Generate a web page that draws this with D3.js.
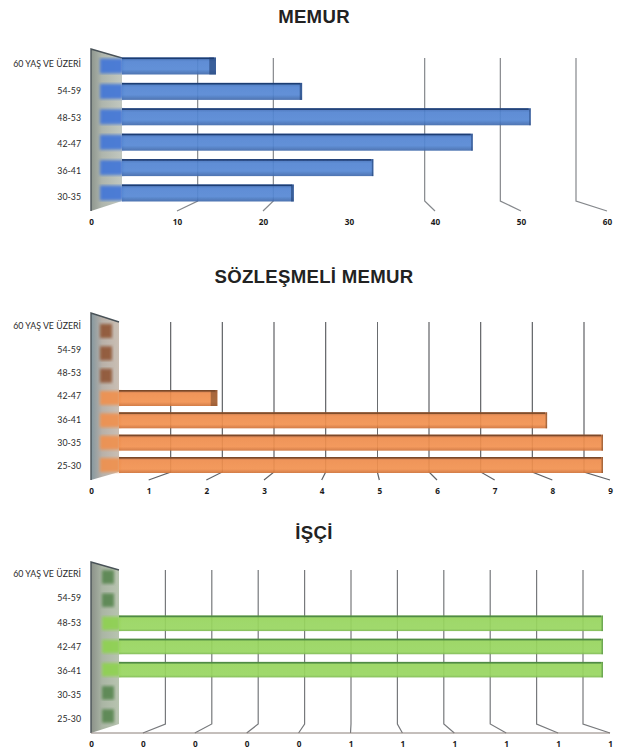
<!DOCTYPE html>
<html>
<head>
<meta charset="utf-8">
<script src="https://cdn.jsdelivr.net/npm/d3@7"></script>
<style>
html, body { margin:0; padding:0; background:#fff; }
svg { display:block; }
</style>
</head>
<body>
<svg id="drawing_region"></svg>
<script>
const memur_categories = ['60 YAŞ VE ÜZERİ','54-59','48-53','42-47','36-41','30-35'];
const memur_values = [14, 24.4, 52, 45, 33, 23.4];
const memur_ticks = [0,10,20,30,40,50,60];

const sozlesmeli_categories = ['60 YAŞ VE ÜZERİ','54-59','48-53','42-47','36-41','30-35','25-30'];
const sozlesmeli_values = [0, 0, 0, 2.1, 8, 9, 9];
const sozlesmeli_ticks = [0,1,2,3,4,5,6,7,8,9];

const isci_categories = ['60 YAŞ VE ÜZERİ','54-59','48-53','42-47','36-41','30-35','25-30'];
const isci_values = [0, 0, 1, 1, 1, 0, 0];
const isci_ticks = [0,0.1,0.2,0.3,0.4,0.5,0.6,0.7,0.8,0.9,1];

class Bar3D {

    constructor( config ) {
        this.config = config;
        this.init();
    }

    init() {
        let self = this;
        let c = self.config;
        let last = c.ticks[c.ticks.length - 1];

        self.svg = d3.select('#drawing_region');
        self.chart = self.svg.append('g');

        self.front = d3.scaleLinear().domain([0, last]).range(c.front);
        self.back = d3.scaleLinear().domain([0, last]).range(c.back);
        self.xscale = d3.scaleLinear().domain([0, last]).range(c.bar);
        self.yscale = d3.scalePoint().domain(c.categories).range(c.ybar);
        self.ylabel = d3.scalePoint().domain(c.categories).range(c.ylab);

        self.xaxis = d3.axisBottom( self.front )
            .tickValues(c.ticks)
            .tickFormat(d3.format('.0f'))
            .tickSize(0);
        self.yaxis = d3.axisLeft( self.ylabel ).tickSize(0);
    }

    render() {
        let self = this;
        let c = self.config;
        let wallRight = c.back[0];

        // duvar
        let wall = [[c.front[0], c.wallTop], [wallRight, c.gridTop], [wallRight, c.gridBottom], [c.front[0], c.floor]];
        self.chart.append('polygon')
            .attr('points', wall.join(' '))
            .attr('fill', `url(#${c.wallFill})`);
        self.chart.append('path')
            .attr('d', `M${wall[1]}L${wall[0]}L${wall[3]}`)
            .attr('fill', 'none')
            .attr('stroke', '#4a5258')
            .attr('stroke-width', 1.4)
            .attr('filter', 'url(#soft)');

        // grid
        self.chart.selectAll('.grid')
            .data(c.ticks.slice(1))
            .enter()
            .append('path')
            .attr('class', 'grid')
            .attr('d', d => `M${self.back(d)},${c.gridTop}V${c.gridBottom}L${self.front(d)},${c.floor}`)
            .attr('fill', 'none')
            .attr('stroke', c.gridColor)
            .attr('stroke-width', 1.2)
            .attr('filter', 'url(#soft)');

        if (c.floorLine) {
            self.chart.append('line')
                .attr('x1', c.front[0]).attr('x2', c.front[1])
                .attr('y1', c.floor).attr('y2', c.floor)
                .attr('stroke', '#8a7f78')
                .attr('stroke-width', 1);
        }

        // bars
        let rows = c.categories.map( (k, i) => ({label:k, value:c.values[i]}) );
        let bars = self.chart.selectAll('.bar')
            .data(rows)
            .enter()
            .append('g')
            .attr('class', 'bar')
            .attr('transform', d => `translate(0,${self.yscale(d.label) - c.barH/2})`);

        // duvar uzerindeki kisim bulanik, 0 degerleri burada kalir
        bars.append('rect')
            .attr('x', c.bar[0])
            .attr('width', d => d.value === 0 ? c.stubW : wallRight - c.bar[0] + 1)
            .attr('y', 1)
            .attr('height', c.barH - 2)
            .attr('fill', d => d.value === 0 ? c.stub : c.side)
            .attr('opacity', d => d.value === 0 ? 0.8 : 0.9)
            .attr('filter', 'url(#wallsoft)');

        let full = bars.filter( d => d.value > 0 ).append('g').attr('filter', 'url(#soft)');
        full.append('rect')
            .attr('x', wallRight)
            .attr('width', d => self.xscale(d.value) - wallRight)
            .attr('height', c.barH)
            .attr('fill', `url(#${c.barFill})`)
            .attr('fill-opacity', 0.92);
        full.append('rect')
            .attr('x', wallRight)
            .attr('width', d => self.xscale(d.value) - wallRight - 2)
            .attr('height', 1.6)
            .attr('fill', c.edge);
        full.append('rect')
            .attr('x', d => self.xscale(d.value) - self.capWidth(d))
            .attr('width', d => self.capWidth(d))
            .attr('height', c.barH)
            .attr('fill', c.edge)
            .attr('opacity', 0.6);

        // axis
        let xg = self.chart.append('g')
            .attr('transform', `translate(0,${c.floor + 4})`)
            .call( self.xaxis );
        xg.select('.domain').remove();
        xg.selectAll('text')
            .attr('font-family', 'Open Sans')
            .attr('font-weight', 700)
            .attr('font-size', 8.2)
            .attr('fill', '#1a1a1a')
            .attr('dy', '0.9em');

        let yg = self.chart.append('g')
            .attr('transform', 'translate(84,0)')
            .call( self.yaxis );
        yg.select('.domain').remove();
        yg.selectAll('text')
            .attr('font-family', 'Lato')
            .attr('font-size', 8.8)
            .attr('fill', '#2a2a2a');

        self.chart.append('text')
            .attr('x', 314)
            .attr('y', c.titleY)
            .attr('text-anchor', 'middle')
            .attr('font-family', 'Liberation Sans')
            .attr('font-weight', 700)
            .attr('font-size', 18.6)
            .attr('letter-spacing', 0.3)
            .attr('fill', '#222')
            .text(c.title);
    }

    capWidth( d ) {
        let x = this.xscale(d.value);
        return Math.max(1.5, (350 - x) * 0.05);
    }
}

// gradients
const defs = d3.select('#drawing_region').attr('width', 617).attr('height', 749).append('defs');
defs.append('filter').attr('id', 'soft').append('feGaussianBlur').attr('stdDeviation', 0.45);
defs.append('filter').attr('id', 'wallsoft').append('feGaussianBlur').attr('stdDeviation', 1.5);

function gradient( id, stops, horizontal ) {
    let g = defs.append('linearGradient').attr('id', id)
        .attr('x1', 0).attr('y1', 0)
        .attr('x2', horizontal ? 1 : 0).attr('y2', horizontal ? 0 : 1);
    stops.forEach( s => g.append('stop').attr('offset', s[0]).attr('stop-color', s[1]) );
}
gradient('blue', [[0,'#3f6cb4'],[0.25,'#5284d2'],[0.7,'#5487d4'],[1,'#3f68aa']]);
gradient('orange', [[0,'#b8683a'],[0.22,'#ee8c4c'],[0.75,'#f29150'],[1,'#cf7238']]);
gradient('green', [[0,'#6eaa45'],[0.15,'#96d45c'],[0.85,'#98d660'],[1,'#7ab74e']]);
gradient('wallBlue', [[0,'#8e968e'],[0.35,'#aeb5ac'],[1,'#c2c8c0']], true);
gradient('wallOrange', [[0,'#84979f'],[0.4,'#b8b0a8'],[1,'#cabfb4']], true);
gradient('wallGreen', [[0,'#8b9189'],[0.4,'#aab5a4'],[1,'#b8c4b0']], true);

new Bar3D({
    title:'MEMUR', titleY:23,
    categories:memur_categories, values:memur_values, ticks:memur_ticks,
    front:[91,607], back:[122,576], bar:[100,597],
    ybar:[66,193], ylab:[64,197], barH:17,
    wallTop:49, gridTop:58, gridBottom:201, floor:211, gridColor:'#85888c',
    wallFill:'wallBlue', barFill:'blue', edge:'#1f3d72', stub:'#34558c', side:'#3f74d8', stubW:12
}).render();

new Bar3D({
    title:'SÖZLEŞMELİ MEMUR', titleY:283,
    categories:sozlesmeli_categories, values:sozlesmeli_values, ticks:sozlesmeli_ticks,
    front:[91,610], back:[119,584], bar:[100,603],
    ybar:[331,465], ylab:[326,466], barH:16,
    wallTop:313, gridTop:322, gridBottom:472, floor:480, gridColor:'#606266',
    wallFill:'wallOrange', barFill:'orange', edge:'#7a4a2a', stub:'#8a4a28', side:'#f0904e', stubW:12
}).render();

new Bar3D({
    title:'İŞÇİ', titleY:539,
    categories:isci_categories, values:isci_values, ticks:isci_ticks,
    front:[91,610], back:[119,583], bar:[102,603], floorLine:true,
    ybar:[577,716], ylab:[574,719], barH:15.5,
    wallTop:562, gridTop:570, gridBottom:724, floor:733, gridColor:'#77797c',
    wallFill:'wallGreen', barFill:'green', edge:'#4f8a44', stub:'#4e7f45', side:'#8ed24f', stubW:12
}).render();
</script>
</body>
</html>
